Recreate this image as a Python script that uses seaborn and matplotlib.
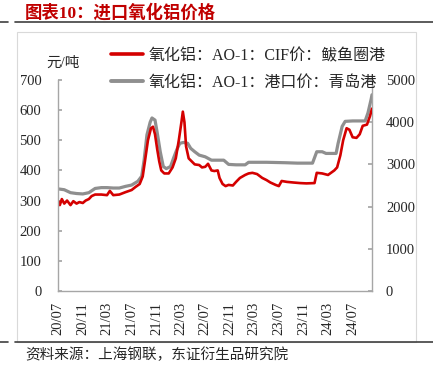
import matplotlib
matplotlib.use("Agg")
import matplotlib.pyplot as plt
import matplotlib.dates as mdates
from matplotlib.lines import Line2D
from matplotlib.patches import Rectangle
import pandas as pd
import seaborn as sns

# CIF price, Bayuquan port (left axis)
cif_dates = [
    "2020-07-01", "2020-07-10", "2020-07-20", "2020-08-01", "2020-08-15", "2020-09-01",
    "2020-09-15", "2020-10-01", "2020-10-15", "2020-11-01", "2020-11-15", "2020-12-01",
    "2020-12-15", "2021-01-01", "2021-02-01", "2021-03-01", "2021-03-15", "2021-04-01",
    "2021-05-01", "2021-06-01", "2021-07-01", "2021-07-20", "2021-08-10", "2021-08-25",
    "2021-09-05", "2021-09-20", "2021-10-05", "2021-10-15", "2021-10-25", "2021-11-05",
    "2021-11-15", "2021-11-25", "2021-12-10", "2022-01-01", "2022-01-20", "2022-02-05",
    "2022-02-20", "2022-03-05", "2022-03-12", "2022-03-20", "2022-03-28", "2022-04-10",
    "2022-04-25", "2022-05-10", "2022-06-01", "2022-06-15", "2022-07-01", "2022-07-15",
    "2022-08-01", "2022-08-15", "2022-09-01", "2022-09-10", "2022-09-25", "2022-10-10",
    "2022-10-25", "2022-11-15", "2022-12-01", "2022-12-20", "2023-01-15", "2023-02-01",
    "2023-02-20", "2023-03-15", "2023-04-10", "2023-05-01", "2023-05-20", "2023-06-15",
    "2023-07-01", "2023-07-15", "2023-08-10", "2023-09-10", "2023-10-15", "2023-11-15",
    "2023-12-25", "2024-01-05", "2024-02-01", "2024-03-01", "2024-04-01", "2024-04-15",
    "2024-05-01", "2024-05-15", "2024-06-01", "2024-06-15", "2024-07-01", "2024-07-20",
    "2024-08-05", "2024-08-20", "2024-09-10", "2024-09-25", "2024-10-05",
]
cif_values = [
    300, 285, 305, 290, 300, 285,
    298, 290, 295, 292, 300, 305,
    315, 320, 320, 318, 332, 318,
    320, 328, 335, 345, 355, 380,
    430, 500, 540, 545, 520, 470,
    430, 400, 390, 390, 410, 440,
    500, 560, 595, 560, 480, 440,
    430, 420, 418, 410, 412, 422,
    400, 398, 400, 375, 355, 348,
    352, 350, 362, 375, 385, 390,
    392, 388, 375, 368, 360, 352,
    348, 365, 362, 360, 358, 357,
    358, 392, 390, 385, 400, 410,
    450, 500, 540, 535, 510, 508,
    520, 548, 552, 580, 605,
]

# port price, Qingdao (right axis)
port_dates = [
    "2020-07-01", "2020-08-01", "2020-09-01", "2020-10-01", "2020-11-01", "2020-12-01",
    "2021-01-01", "2021-02-01", "2021-03-01", "2021-04-01", "2021-05-01", "2021-06-01",
    "2021-07-01", "2021-08-01", "2021-08-20", "2021-09-01", "2021-09-15", "2021-10-01",
    "2021-10-10", "2021-10-25", "2021-11-05", "2021-11-20", "2021-12-05", "2021-12-20",
    "2022-01-10", "2022-01-25", "2022-02-10", "2022-02-25", "2022-03-15", "2022-04-05",
    "2022-04-20", "2022-05-10", "2022-06-01", "2022-07-01", "2022-08-01", "2022-09-01",
    "2022-10-01", "2022-10-25", "2022-12-01", "2023-01-15", "2023-02-01", "2023-05-01",
    "2023-08-01", "2023-10-01", "2023-12-15", "2024-01-05", "2024-02-01", "2024-02-20",
    "2024-04-10", "2024-04-20", "2024-05-10", "2024-05-25", "2024-07-01", "2024-08-01",
    "2024-09-01", "2024-09-15", "2024-10-01", "2024-10-05",
]
port_values = [
    2420, 2400, 2330, 2310, 2300, 2330,
    2430, 2450, 2450, 2440, 2440, 2480,
    2510, 2600, 2720, 3100, 3700, 4000,
    4100, 4050, 3750, 3300, 2950, 2900,
    2950, 3150, 3350, 3500, 3520, 3500,
    3380, 3300, 3220, 3180, 3100, 3100,
    3100, 3000, 2990, 2990, 3050, 3050,
    3040, 3030, 3030, 3300, 3300, 3260,
    3260, 3500, 3900, 4020, 4030, 4030,
    4030, 4220, 4550, 4650,
]

cif = pd.DataFrame({"date": pd.to_datetime(cif_dates), "value": cif_values})
port = pd.DataFrame({"date": pd.to_datetime(port_dates), "value": port_values})

sns.set_theme(style="white")
plt.rcParams["font.family"] = ["Liberation Serif", "Noto Sans CJK SC"]

RED = "#D40000"
GRAY = "#8F8F8F"
TXT = "#262626"

fig = plt.figure(figsize=(4.33, 3.78), dpi=100)
W, H = 433, 378
ax = fig.add_axes([58 / W, 1 - 291 / H, (372 - 58) / W, (291 - 80) / H])
ax2 = ax.twinx()

sns.lineplot(data=cif, x="date", y="value", ax=ax, color=RED, linewidth=1.9,
             label="氧化铝：AO-1：CIF价：鲅鱼圈港", legend=False)
sns.lineplot(data=port, x="date", y="value", ax=ax2, color=GRAY, linewidth=2.3,
             label="氧化铝：AO-1：港口价：青岛港", legend=False)
ax2.set_zorder(ax.get_zorder() - 1)
ax.patch.set_visible(False)

ax.set_ylim(0, 700)
ax2.set_ylim(0, 5000)
ax.set_yticks(range(0, 701, 100))
ax2.set_yticks(range(0, 5001, 1000))
ax.set_xlim(cif["date"].min(), cif["date"].max())
ax.xaxis.set_major_locator(mdates.MonthLocator(bymonth=[3, 7, 11]))
ax.xaxis.set_major_formatter(mdates.DateFormatter("%y/%m"))
ax.set_xlabel("")
ax.set_ylabel("")
ax2.set_ylabel("")

for a in (ax, ax2):
    for s in a.spines.values():
        s.set_color("#A6A6A6")
        s.set_linewidth(1.0)
    a.spines["top"].set_visible(False)
ax.spines["right"].set_visible(False)
ax2.spines["left"].set_visible(False)
ax2.spines["bottom"].set_visible(False)

ax.tick_params(axis="x", direction="in", length=3, color="#A6A6A6", pad=8,
               labelsize=10.5, labelcolor=TXT, labelrotation=90)
ax.tick_params(axis="y", direction="in", length=3, color="#A6A6A6", pad=12,
               labelsize=10.5, labelcolor=TXT, left=True)
ax2.tick_params(axis="y", direction="in", length=3, color="#A6A6A6", pad=10,
                labelsize=10.5, labelcolor=TXT, right=True)

handles = [Line2D([], [], color=RED, lw=2.6), Line2D([], [], color=GRAY, lw=2.8)]
labels = ["氧化铝：AO-1：CIF价：鲅鱼圈港", "氧化铝：AO-1：港口价：青岛港"]
fig.legend(handles, labels, loc="upper left", bbox_to_anchor=(111 / W, 1 - 48 / H),
           frameon=False, fontsize=11.5, handlelength=2.0, handletextpad=0.35,
           labelspacing=0.65, borderpad=0, borderaxespad=0, labelcolor=TXT)

fig.text(63 / W, 1 - 63 / H, "元/吨", ha="center", va="center", fontsize=10.5, color=TXT)

# title, frame and source note
fig.text(25 / W, 1 - 13 / H, "图表10：进口氧化铝价格", ha="left", va="center",
         fontsize=12.5, fontweight="bold", color="#C00000")
fig.add_artist(Rectangle((17 / W, 1 - 342 / H), (416 - 17) / W, (342 - 32) / H,
                         fill=False, edgecolor="#D9D9D9", lw=0.8))
for yy in (22, 342):
    fig.add_artist(Line2D([0, 8 / W], [1 - yy / H] * 2, color="#404040", lw=1.2))
    fig.add_artist(Line2D([15 / W, 1], [1 - yy / H] * 2, color="#404040", lw=1.2))
fig.text(25 / W, 1 - 355 / H, "资料来源：上海钢联，东证衍生品研究院", ha="left",
         va="center", fontsize=10.5, color=TXT)

fig.savefig("out.png", dpi=100)
